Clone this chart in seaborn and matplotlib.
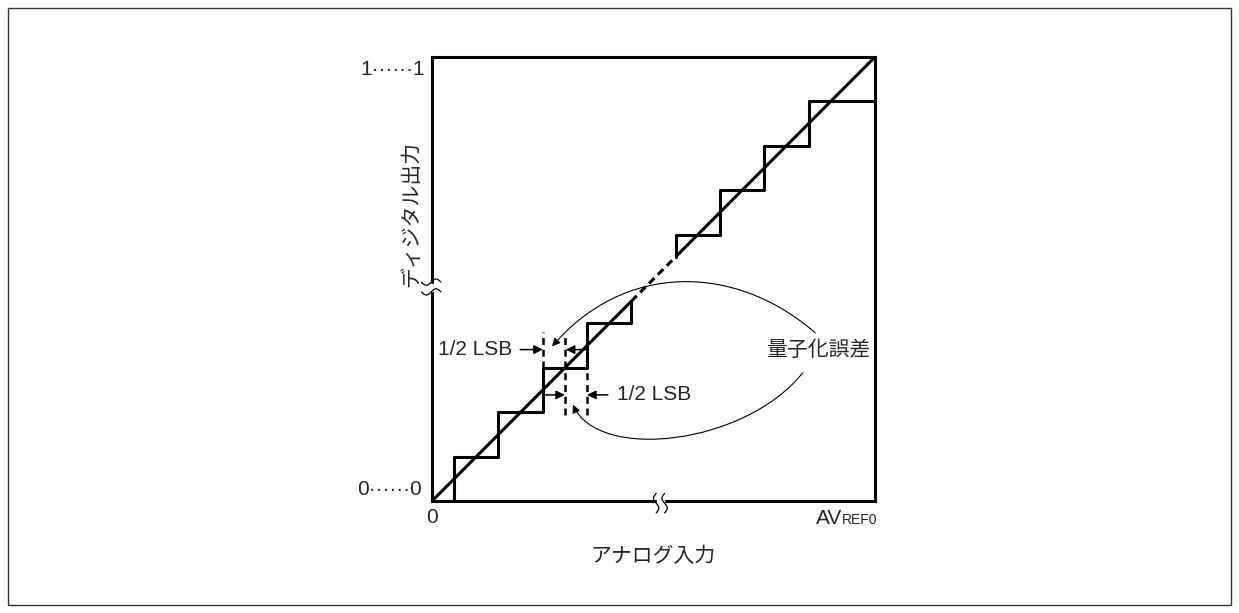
import matplotlib
matplotlib.use("Agg")
import matplotlib.pyplot as plt
import numpy as np
import pandas as pd
import seaborn as sns
from matplotlib.path import Path
from matplotlib.patches import FancyArrowPatch, Rectangle

# region data (units: LSB)
stair_lo_x = [0.5, 0.5, 1.5, 1.5, 2.5, 2.5, 3.5, 3.5, 4.5, 4.5]
stair_lo_y = [0, 1, 1, 2, 2, 3, 3, 4, 4, 4.5]
stair_hi_x = [5.5, 5.5, 6.5, 6.5, 7.5, 7.5, 8.5, 8.5, 10]
stair_hi_y = [5.5, 6, 6, 7, 7, 8, 8, 9, 9]
ideal_solid = [(0, 4.5), (5.5, 10)]
ideal_gap = (4.5, 5.5)

# half-LSB guides: x, y_from, y_to
guides_x = [2.5, 3.0, 3.5]
guides_y0 = [3.0, 1.94, 1.94]
guides_y1 = [3.81, 3.75, 3.0]
# dimension arrows: (tail_x, tip_x, y)
dim_arrows = [(1.99, 2.5, 3.41), (3.47, 3.02, 3.41), (2.55, 3.0, 2.39), (3.97, 3.5, 2.39)]

# callout curves (bezier control points)
curve_up = [(8.65, 3.79), (6.82, 5.37), (4.33, 5.37), (2.71, 3.48)]
curve_dn = [(8.37, 2.89), (7.07, 1.26), (3.75, 0.88), (3.18, 2.17)]

label_err = "量子化誤差"
label_half = "1/2 LSB"
x_label = "アナログ入力"
y_label = "ディジタル出力"
top_code = "1······1"
bot_code = "0······0"
# endregion

sns.set_style("white")
fam = ["Liberation Sans", "Noto Sans CJK JP", "DejaVu Sans"]
plt.rcParams["font.family"] = fam

fig = plt.figure(figsize=(12.39, 6.13), dpi=100)
ax = fig.add_axes([0.3487, 0.1827, 0.3575, 0.7243])
ax.set_xlim(0, 10)
ax.set_ylim(0, 10)
ax.set_xticks([])
ax.set_yticks([])
for s in ax.spines.values():
    s.set_visible(True)
    s.set_color("black")
    s.set_linewidth(2.2)

lw = 2.2
df_lo = pd.DataFrame({"x": stair_lo_x, "y": stair_lo_y})
df_hi = pd.DataFrame({"x": stair_hi_x, "y": stair_hi_y})
sns.lineplot(data=df_lo, x="x", y="y", sort=False, estimator=None, color="black", lw=lw, ax=ax)
sns.lineplot(data=df_hi, x="x", y="y", sort=False, estimator=None, color="black", lw=lw, ax=ax)
for a, b in ideal_solid:
    ax.plot([a, b], [a, b], color="black", lw=lw, solid_capstyle="butt", clip_on=False)
ax.plot(ideal_gap, ideal_gap, color="black", lw=lw, linestyle=(0, (2.5, 1.6)))

for gx, y0, y1 in zip(guides_x, guides_y0, guides_y1):
    ax.plot([gx, gx], [y0, y1], color="black", lw=1.8, linestyle=(0, (2.8, 1.9)))

for tail, tip, yy in dim_arrows:
    ax.annotate("", xy=(tip, yy), xytext=(tail, yy),
                arrowprops=dict(arrowstyle="-|>", color="black", lw=1.1,
                                mutation_scale=13, shrinkA=0, shrinkB=0))

ax.text(1.81, 3.41, label_half, ha="right", va="center", fontsize=15)
ax.text(4.18, 2.39, label_half, ha="left", va="center", fontsize=15)
ax.text(7.54, 3.39, label_err, ha="left", va="center", fontsize=15)

codes = [Path.MOVETO, Path.CURVE4, Path.CURVE4, Path.CURVE4]
for pts in (curve_up, curve_dn):
    arr = FancyArrowPatch(path=Path(pts, codes), arrowstyle="-|>", color="black",
                          lw=0.8, mutation_scale=12)
    ax.add_patch(arr)

# axis texts
ax.text(-0.16, 9.71, top_code, ha="right", va="center", fontsize=15, clip_on=False)
ax.text(-0.23, 0.25, bot_code, ha="right", va="center", fontsize=15, clip_on=False)
ax.text(0, -0.38, "0", ha="center", va="center", fontsize=15, clip_on=False)
ax.text(9.26, -0.52, "AV", ha="right", va="baseline", fontsize=15, clip_on=False)
ax.text(9.26, -0.52, "REF0", ha="left", va="baseline", fontsize=10, clip_on=False)
ax.text(4.99, -1.26, x_label, ha="center", va="center", fontsize=15, clip_on=False)
ax.text(-0.47, 6.46, y_label, ha="center", va="center", fontsize=15, rotation=90, clip_on=False)

# axis break marks
ax.add_patch(Rectangle((-0.1, 4.74), 0.2, 0.15, color="white", zorder=5, clip_on=False))
t = np.linspace(0, 1, 40)
for yb in (4.93, 4.71):
    ax.plot(-0.24 + 0.44 * t, yb - 0.07 * np.sin(2 * np.pi * t), color="black", lw=0.9,
            zorder=6, clip_on=False)
ax.add_patch(Rectangle((5.08, -0.1), 0.15, 0.2, color="white", zorder=5, clip_on=False))
for xb in (5.06, 5.25):
    ax.plot(xb + 0.06 * np.sin(2 * np.pi * t), -0.27 + 0.44 * t, color="black", lw=0.9,
            zorder=6, clip_on=False)

# outer frame
fig.add_artist(Rectangle((8 / 1239, 8 / 613), 1223 / 1239, 597 / 613, fill=False,
                         edgecolor="#333333", lw=1.0, transform=fig.transFigure))

fig.savefig("out.png", dpi=100)
